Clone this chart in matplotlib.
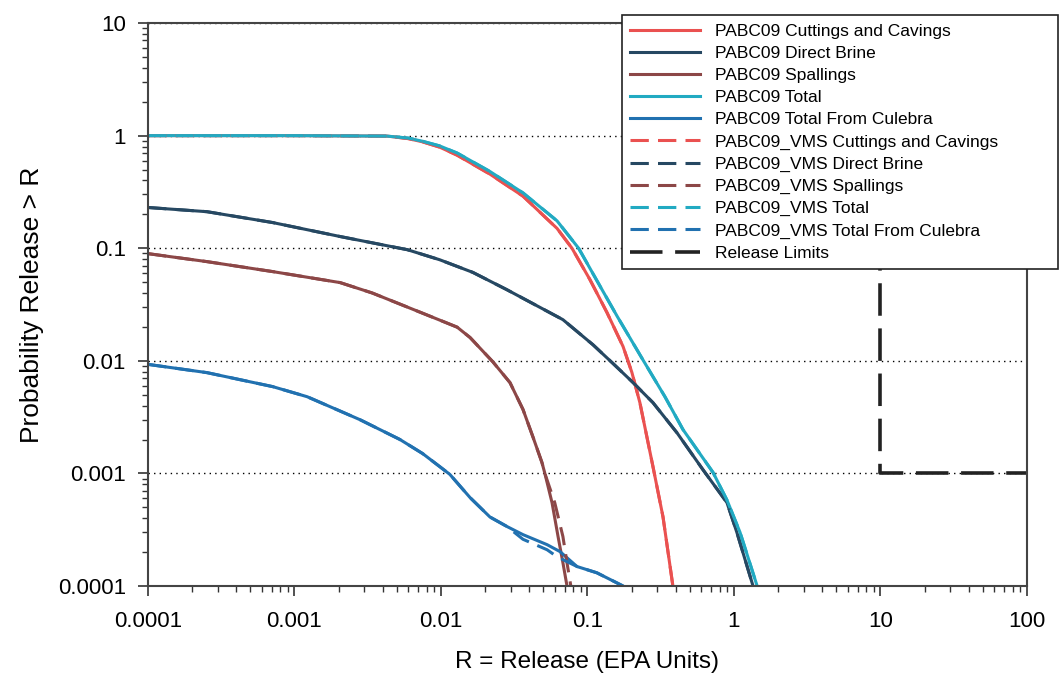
import matplotlib
matplotlib.use('Agg')
import matplotlib.pyplot as plt
from matplotlib.ticker import FixedLocator, LogLocator, NullFormatter

plt.rcParams['font.family'] = ['Liberation Sans', 'DejaVu Sans']
plt.rcParams['lines.solid_joinstyle'] = 'round'

# curve data (release R, probability > R)
cc_x = [1e-4, 1e-3, 0.0043, 0.006, 0.0075, 0.0098, 0.0129, 0.0216, 0.0363, 0.062,
        0.0784, 0.104, 0.136, 0.175, 0.201, 0.228, 0.280, 0.328, 0.383]
cc_y = [1.0, 1.0, 0.99, 0.94, 0.88, 0.79, 0.67, 0.455, 0.29, 0.15,
        0.1, 0.0526, 0.0268, 0.0134, 0.0079, 0.00425, 0.00115, 0.00041, 0.0001]

db_x = [1e-4, 2.53e-4, 7.1e-4, 2.05e-3, 5.9e-3, 0.0098, 0.0165, 0.028, 0.047, 0.068,
        0.109, 0.149, 0.205, 0.280, 0.408, 0.614, 0.896, 1.048, 1.35]
db_y = [0.23, 0.211, 0.169, 0.127, 0.097, 0.079, 0.061, 0.043, 0.030, 0.0232,
        0.0139, 0.0095, 0.0064, 0.00425, 0.0023, 0.00108, 0.00055, 0.000298, 0.0001]

sp_x = [1e-4, 2.53e-4, 7.1e-4, 2.05e-3, 3.4e-3, 5.9e-3, 0.0098, 0.0129, 0.0158, 0.0226,
        0.0296, 0.0363, 0.0425, 0.0489, 0.0512, 0.0573, 0.063, 0.068, 0.0725]
sp_y = [0.0895, 0.076, 0.062, 0.0495, 0.040, 0.030, 0.023, 0.0199, 0.0161, 0.0098,
        0.0064, 0.0037, 0.0021, 0.00125, 0.001, 0.00055, 0.000275, 0.000161, 0.0001]

tot_x = [1e-4, 1e-3, 0.0043, 0.006, 0.0075, 0.0098, 0.0129, 0.0216, 0.0363, 0.062,
         0.087, 0.115, 0.16, 0.236, 0.338, 0.449, 0.72, 0.896, 1.10, 1.44]
tot_y = [1.0, 1.0, 0.99, 0.95, 0.89, 0.81, 0.70, 0.48, 0.31, 0.175,
         0.1, 0.0526, 0.0247, 0.0105, 0.0048, 0.00245, 0.00102, 0.00058, 0.0003, 0.0001]

cul_x = [1e-4, 2.53e-4, 7.1e-4, 1.22e-3, 2.8e-3, 5.25e-3, 0.0075, 0.0098, 0.0115, 0.0158,
         0.0216, 0.0283, 0.0363, 0.053, 0.065, 0.0848, 0.116, 0.158, 0.175]
cul_y = [0.0093, 0.00785, 0.0059, 0.0048, 0.0030, 0.002, 0.0015, 0.00115, 0.00098, 0.00061,
         0.00041, 0.000337, 0.000286, 0.000233, 0.000202, 0.000149, 0.000131, 0.000107, 0.0001]

# VMS runs: lie on top of the PABC09 curves except in the tails
sp_vms_x = [1e-4, 2.53e-4, 7.1e-4, 2.05e-3, 3.4e-3, 5.9e-3, 0.0098, 0.0129, 0.0158, 0.0226,
            0.0296, 0.0363, 0.0425, 0.0489, 0.0512, 0.0598, 0.068, 0.0725, 0.077]
sp_vms_y = [0.0895, 0.076, 0.062, 0.0495, 0.040, 0.030, 0.023, 0.0199, 0.0161, 0.0098,
            0.0064, 0.0037, 0.0021, 0.00125, 0.001, 0.00055, 0.000275, 0.000161, 0.0001]

cul_vms_x = [1e-4, 2.53e-4, 7.1e-4, 1.22e-3, 2.8e-3, 5.25e-3, 0.0075, 0.0098, 0.0115, 0.0158,
             0.0216, 0.0283, 0.0363, 0.053, 0.062, 0.0848, 0.116, 0.158, 0.175]
cul_vms_y = [0.0093, 0.00785, 0.0059, 0.0048, 0.0030, 0.002, 0.0015, 0.00115, 0.00098, 0.00061,
             0.00041, 0.000337, 0.00026, 0.00021, 0.000182, 0.000149, 0.000131, 0.000107, 0.0001]

limit_x = [1, 1, 10, 10, 100]
limit_y = [10, 0.1, 0.1, 0.001, 0.001]

xticks = [1e-4, 1e-3, 1e-2, 1e-1, 1, 10, 100]
xtick_labels = ['0.0001', '0.001', '0.01', '0.1', '1', '10', '100']
yticks = [1e-4, 1e-3, 1e-2, 1e-1, 1, 10]
ytick_labels = ['0.0001', '0.001', '0.01', '0.1', '1', '10']

c_cc = '#ea5150'
c_db = '#264862'
c_sp = '#8c4747'
c_tot = '#22aac2'
c_cul = '#2171b0'

fig = plt.figure(figsize=(10.6, 6.77), dpi=100)
ax = fig.add_axes([0.1396, 0.1344, 0.8292, 0.8316])

lw = 2.2
ax.plot(cc_x, cc_y, color=c_cc, lw=lw, label='PABC09 Cuttings and Cavings')
ax.plot(db_x, db_y, color=c_db, lw=lw, label='PABC09 Direct Brine')
ax.plot(sp_x, sp_y, color=c_sp, lw=lw, label='PABC09 Spallings')
ax.plot(tot_x, tot_y, color=c_tot, lw=lw, label='PABC09 Total')
ax.plot(cul_x, cul_y, color=c_cul, lw=lw, label='PABC09 Total From Culebra')

dash = (6, 3)
ax.plot(cc_x, cc_y, color=c_cc, lw=lw, dashes=dash, label='PABC09_VMS Cuttings and Cavings')
ax.plot(db_x, db_y, color=c_db, lw=lw, dashes=dash, label='PABC09_VMS Direct Brine')
ax.plot(sp_vms_x, sp_vms_y, color=c_sp, lw=lw, dashes=dash, label='PABC09_VMS Spallings')
ax.plot(tot_x, tot_y, color=c_tot, lw=lw, dashes=dash, label='PABC09_VMS Total')
ax.plot(cul_vms_x, cul_vms_y, color=c_cul, lw=lw, dashes=dash, label='PABC09_VMS Total From Culebra')
ax.plot(limit_x, limit_y, color='#222222', lw=2.6, dashes=(9, 3.5), label='Release Limits')

ax.set_xscale('log')
ax.set_yscale('log')
ax.set_xlim(1e-4, 100)
ax.set_ylim(1e-4, 10)

ax.xaxis.set_major_locator(FixedLocator(xticks))
ax.set_xticklabels(xtick_labels)
ax.yaxis.set_major_locator(FixedLocator(yticks))
ax.set_yticklabels(ytick_labels)
ax.xaxis.set_minor_locator(LogLocator(base=10, subs=range(2, 10), numticks=20))
ax.yaxis.set_minor_locator(LogLocator(base=10, subs=range(2, 10), numticks=20))
ax.xaxis.set_minor_formatter(NullFormatter())
ax.yaxis.set_minor_formatter(NullFormatter())

ax.tick_params(which='major', direction='out', length=7, width=1.2, labelsize=16,
               color='#333333', pad=9)
ax.tick_params(which='minor', direction='out', length=4.5, width=1.0, color='#333333')
ax.tick_params(axis='x', which='major', pad=11)

for s in ax.spines.values():
    s.set_linewidth(1.5)
    s.set_color('#444444')

# dotted horizontal grid at the decades
ax.yaxis.grid(True, which='major', linestyle=(0, (1, 3)), color='black', lw=1.0)
ax.set_axisbelow(True)

ax.set_xlabel('R = Release (EPA Units)', fontsize=17.5, labelpad=14)
ax.set_ylabel('Probability Release > R', fontsize=19, labelpad=10)

leg = ax.legend(loc='upper left', bbox_to_anchor=(0.539, 0.5, 0.496, 0.514), mode='expand',
                borderaxespad=0, fontsize=12.5, handlelength=4.0, handletextpad=0.9,
                labelspacing=0.4, fancybox=False, framealpha=1, edgecolor='#222222',
                borderpad=0.5)
leg.get_frame().set_linewidth(1.2)

fig.savefig('out.png', dpi=100)
